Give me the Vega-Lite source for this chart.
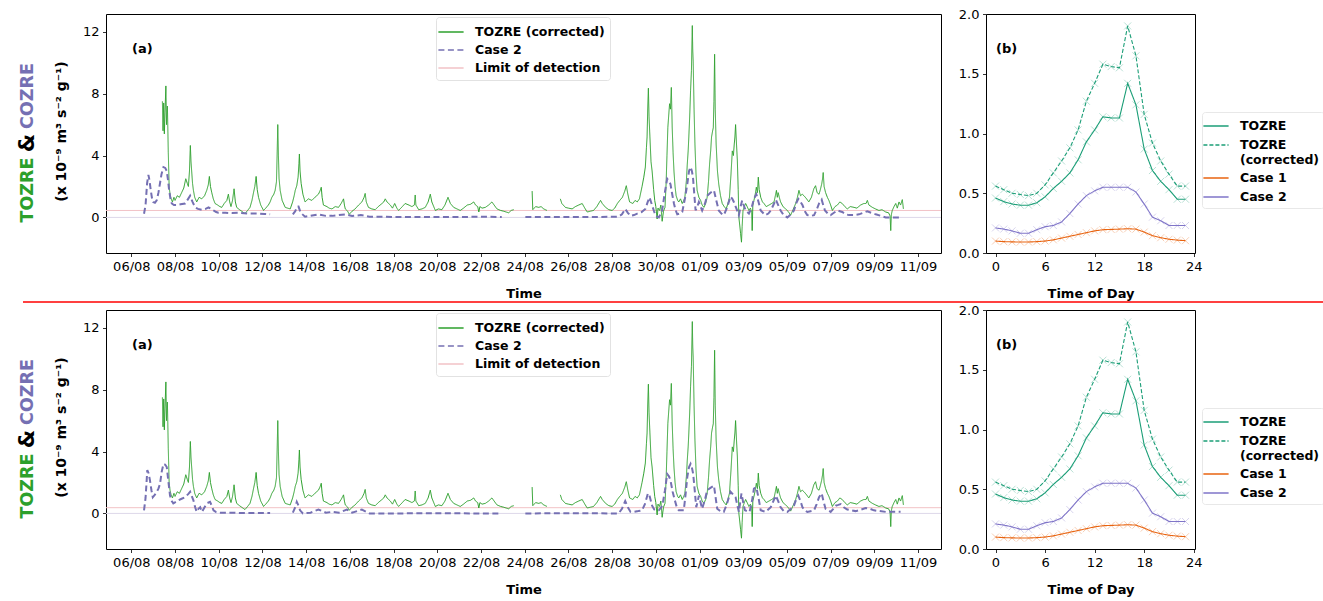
{
"$schema": "https://vega.github.io/schema/vega-lite/v6.json",
"padding": {"left": 17, "top": 7, "right": 0, "bottom": 0},
"background": "white",
"config": {
  "font": "DejaVu Sans",
  "view": {"stroke": "black", "strokeWidth": 1},
  "axis": {"labelFont": "DejaVu Sans", "labelFontSize": 13, "labelColor": "black", "tickColor": "black", "tickSize": 3.5, "tickWidth": 0.8, "labelPadding": 3.5, "domain": false, "grid": false, "titleFont": "DejaVu Sans", "titleFontSize": 13, "titleFontWeight": "bold", "titleColor": "black", "labelFlush": false, "labelOverlap": false},
  "legend": {"labelFont": "DejaVu Sans", "labelColor": "black"},
  "title": {"font": "DejaVu Sans", "color": "black"}
},
"datasets": {
"tozre": [{"t":1.42,"v":7.5},{"t":1.45,"v":5.6},{"t":1.48,"v":7.4},{"t":1.51,"v":5.4},{"t":1.54,"v":6.8},{"t":1.58,"v":8.5},{"t":1.61,"v":6.0},{"t":1.65,"v":7.2},{"t":1.69,"v":4.2},{"t":1.73,"v":2.0},{"t":1.77,"v":1.5},{"t":1.82,"v":1.2},{"t":1.88,"v":1.0},{"t":1.95,"v":1.3},{"t":2.0,"v":1.1},{"t":2.1,"v":1.4},{"t":2.2,"v":1.3},{"t":2.3,"v":1.6},{"t":2.4,"v":1.9},{"t":2.49,"v":2.5},{"t":2.56,"v":2.2},{"t":2.61,"v":2.0},{"t":2.66,"v":3.0},{"t":2.7,"v":4.65},{"t":2.73,"v":3.6},{"t":2.76,"v":3.0},{"t":2.8,"v":2.2},{"t":2.84,"v":1.75},{"t":2.9,"v":1.3},{"t":2.99,"v":1.0},{"t":3.1,"v":1.3},{"t":3.22,"v":1.2},{"t":3.35,"v":1.4},{"t":3.45,"v":1.75},{"t":3.52,"v":2.1},{"t":3.57,"v":2.65},{"t":3.62,"v":2.0},{"t":3.68,"v":1.6},{"t":3.75,"v":1.2},{"t":3.83,"v":0.9},{"t":3.95,"v":0.8},{"t":4.05,"v":0.7},{"t":4.14,"v":0.65},{"t":4.25,"v":0.9},{"t":4.37,"v":1.1},{"t":4.44,"v":1.5},{"t":4.5,"v":1.0},{"t":4.56,"v":0.7},{"t":4.63,"v":1.1},{"t":4.7,"v":1.85},{"t":4.76,"v":1.0},{"t":4.82,"v":0.65},{"t":4.95,"v":0.5},{"t":5.05,"v":0.4},{"t":5.2,"v":0.25},{"t":5.32,"v":0.45},{"t":5.43,"v":0.65},{"t":5.52,"v":1.1},{"t":5.59,"v":1.6},{"t":5.65,"v":2.0},{"t":5.71,"v":2.65},{"t":5.76,"v":1.8},{"t":5.82,"v":1.3},{"t":5.92,"v":0.8},{"t":6.05,"v":0.45},{"t":6.15,"v":0.6},{"t":6.27,"v":0.8},{"t":6.35,"v":1.0},{"t":6.43,"v":1.3},{"t":6.52,"v":1.5},{"t":6.58,"v":1.75},{"t":6.64,"v":2.3},{"t":6.67,"v":4.0},{"t":6.7,"v":6.0},{"t":6.73,"v":4.0},{"t":6.76,"v":2.5},{"t":6.81,"v":1.75},{"t":6.9,"v":1.1},{"t":7.04,"v":0.65},{"t":7.15,"v":0.6},{"t":7.27,"v":0.55},{"t":7.38,"v":1.0},{"t":7.45,"v":1.4},{"t":7.5,"v":1.75},{"t":7.57,"v":2.05},{"t":7.63,"v":2.6},{"t":7.67,"v":3.5},{"t":7.69,"v":4.1},{"t":7.72,"v":3.0},{"t":7.77,"v":2.2},{"t":7.85,"v":1.5},{"t":7.95,"v":1.0},{"t":8.1,"v":1.2},{"t":8.26,"v":1.1},{"t":8.4,"v":1.3},{"t":8.56,"v":1.5},{"t":8.63,"v":1.7},{"t":8.69,"v":1.95},{"t":8.73,"v":1.3},{"t":8.79,"v":0.8},{"t":8.95,"v":0.7},{"t":9.05,"v":0.6},{"t":9.18,"v":0.55},{"t":9.33,"v":0.7},{"t":9.48,"v":0.65},{"t":9.6,"v":0.9},{"t":9.71,"v":1.2},{"t":9.75,"v":0.8},{"t":9.79,"v":0.55},{"t":9.9,"v":0.4},{"t":9.97,"v":0.2},{"t":10.1,"v":0.4},{"t":10.24,"v":0.55},{"t":10.4,"v":0.8},{"t":10.55,"v":1.0},{"t":10.65,"v":1.3},{"t":10.7,"v":1.55},{"t":10.75,"v":1.0},{"t":10.85,"v":0.65},{"t":11.0,"v":0.55},{"t":11.16,"v":0.5},{"t":11.3,"v":0.7},{"t":11.47,"v":0.9},{"t":11.55,"v":1.0},{"t":11.62,"v":1.2},{"t":11.7,"v":1.0},{"t":11.85,"v":0.8},{"t":11.95,"v":0.6},{"t":12.05,"v":0.9},{"t":12.15,"v":0.6},{"t":12.23,"v":0.45},{"t":12.4,"v":0.7},{"t":12.53,"v":0.9},{"t":12.7,"v":0.8},{"t":12.84,"v":0.7},{"t":12.95,"v":0.8},{"t":12.99,"v":1.45},{"t":13.02,"v":0.8},{"t":13.15,"v":0.5},{"t":13.3,"v":0.55},{"t":13.45,"v":0.65},{"t":13.58,"v":1.0},{"t":13.68,"v":1.5},{"t":13.75,"v":1.0},{"t":13.91,"v":0.45},{"t":14.05,"v":0.55},{"t":14.21,"v":0.5},{"t":14.35,"v":0.8},{"t":14.49,"v":1.3},{"t":14.6,"v":0.9},{"t":14.75,"v":0.65},{"t":14.9,"v":0.55},{"t":15.05,"v":0.45},{"t":15.2,"v":0.6},{"t":15.37,"v":0.8},{"t":15.52,"v":0.85},{"t":15.67,"v":1.0},{"t":15.75,"v":0.8},{"t":15.85,"v":0.7},{"t":15.9,"v":0.35},{"t":15.95,"v":0.7},{"t":16.05,"v":0.6},{"t":16.2,"v":0.65},{"t":16.35,"v":0.8},{"t":16.5,"v":1.0},{"t":16.6,"v":0.8},{"t":16.73,"v":0.55},{"t":16.9,"v":0.45},{"t":17.04,"v":0.4},{"t":17.15,"v":0.35},{"t":17.27,"v":0.3},{"t":17.38,"v":0.45},{"t":17.5,"v":0.5},{"t":17.9,"v":null},{"t":18.34,"v":1.7},{"t":18.37,"v":0.5},{"t":18.5,"v":0.7},{"t":18.64,"v":0.65},{"t":18.75,"v":0.7},{"t":18.87,"v":0.55},{"t":19.02,"v":0.45},{"t":19.3,"v":null},{"t":19.63,"v":1.2},{"t":19.7,"v":0.9},{"t":19.86,"v":0.65},{"t":20.0,"v":0.6},{"t":20.17,"v":0.55},{"t":20.32,"v":0.7},{"t":20.47,"v":0.8},{"t":20.63,"v":0.9},{"t":20.75,"v":0.6},{"t":20.86,"v":0.35},{"t":21.0,"v":0.4},{"t":21.15,"v":0.45},{"t":21.3,"v":0.7},{"t":21.47,"v":1.1},{"t":21.55,"v":0.9},{"t":21.7,"v":0.65},{"t":21.85,"v":0.5},{"t":22.0,"v":0.45},{"t":22.12,"v":0.6},{"t":22.24,"v":0.9},{"t":22.35,"v":1.1},{"t":22.47,"v":1.3},{"t":22.58,"v":1.7},{"t":22.65,"v":2.05},{"t":22.72,"v":1.5},{"t":22.8,"v":1.0},{"t":22.95,"v":0.9},{"t":23.05,"v":1.1},{"t":23.15,"v":1.0},{"t":23.25,"v":1.2},{"t":23.37,"v":2.0},{"t":23.45,"v":2.6},{"t":23.52,"v":3.25},{"t":23.57,"v":4.5},{"t":23.6,"v":5.2},{"t":23.63,"v":7.0},{"t":23.66,"v":8.35},{"t":23.69,"v":6.5},{"t":23.73,"v":5.2},{"t":23.78,"v":3.6},{"t":23.83,"v":3.0},{"t":23.9,"v":1.8},{"t":23.95,"v":1.1},{"t":24.0,"v":0.7},{"t":24.06,"v":-0.1},{"t":24.1,"v":0.6},{"t":24.17,"v":0.45},{"t":24.23,"v":0.8},{"t":24.29,"v":-0.25},{"t":24.35,"v":0.4},{"t":24.42,"v":0.65},{"t":24.47,"v":2.15},{"t":24.51,"v":4.0},{"t":24.55,"v":5.8},{"t":24.59,"v":6.6},{"t":24.63,"v":7.35},{"t":24.67,"v":7.0},{"t":24.71,"v":8.4},{"t":24.75,"v":5.8},{"t":24.79,"v":4.2},{"t":24.83,"v":3.0},{"t":24.88,"v":2.0},{"t":24.93,"v":1.4},{"t":25.0,"v":1.1},{"t":25.05,"v":1.0},{"t":25.13,"v":1.2},{"t":25.21,"v":0.9},{"t":25.28,"v":1.1},{"t":25.33,"v":1.3},{"t":25.4,"v":2.4},{"t":25.44,"v":3.45},{"t":25.48,"v":4.3},{"t":25.51,"v":5.2},{"t":25.55,"v":6.5},{"t":25.59,"v":8.2},{"t":25.63,"v":9.5},{"t":25.67,"v":12.4},{"t":25.69,"v":10.8},{"t":25.71,"v":10.1},{"t":25.75,"v":7.0},{"t":25.79,"v":4.75},{"t":25.84,"v":2.8},{"t":25.89,"v":1.75},{"t":25.97,"v":1.3},{"t":26.05,"v":1.1},{"t":26.12,"v":0.8},{"t":26.2,"v":0.65},{"t":26.28,"v":0.9},{"t":26.35,"v":1.3},{"t":26.41,"v":2.3},{"t":26.46,"v":3.45},{"t":26.51,"v":4.3},{"t":26.55,"v":5.2},{"t":26.6,"v":5.6},{"t":26.63,"v":5.8},{"t":26.66,"v":7.5},{"t":26.69,"v":10.55},{"t":26.72,"v":7.0},{"t":26.76,"v":4.75},{"t":26.82,"v":3.0},{"t":26.88,"v":2.15},{"t":26.96,"v":1.4},{"t":27.04,"v":0.9},{"t":27.13,"v":0.7},{"t":27.22,"v":0.55},{"t":27.3,"v":0.9},{"t":27.37,"v":1.3},{"t":27.44,"v":2.8},{"t":27.5,"v":4.3},{"t":27.55,"v":4.0},{"t":27.59,"v":4.75},{"t":27.62,"v":5.2},{"t":27.65,"v":6.0},{"t":27.69,"v":4.8},{"t":27.73,"v":3.7},{"t":27.77,"v":1.8},{"t":27.8,"v":0.0},{"t":27.84,"v":-0.5},{"t":27.88,"v":-1.05},{"t":27.92,"v":-1.6},{"t":27.95,"v":-0.6},{"t":27.99,"v":0.45},{"t":28.05,"v":0.7},{"t":28.11,"v":0.9},{"t":28.18,"v":0.7},{"t":28.26,"v":0.45},{"t":28.33,"v":0.6},{"t":28.39,"v":0.3},{"t":28.41,"v":-0.85},{"t":28.44,"v":0.8},{"t":28.49,"v":1.1},{"t":28.55,"v":1.5},{"t":28.6,"v":1.95},{"t":28.65,"v":1.6},{"t":28.69,"v":2.6},{"t":28.73,"v":1.8},{"t":28.8,"v":1.3},{"t":28.88,"v":1.0},{"t":28.95,"v":0.9},{"t":29.05,"v":0.7},{"t":29.18,"v":0.8},{"t":29.3,"v":0.9},{"t":29.41,"v":1.0},{"t":29.47,"v":1.4},{"t":29.52,"v":1.75},{"t":29.56,"v":1.3},{"t":29.6,"v":1.6},{"t":29.65,"v":1.3},{"t":29.71,"v":1.0},{"t":29.82,"v":0.7},{"t":29.94,"v":0.55},{"t":30.05,"v":0.4},{"t":30.17,"v":0.15},{"t":30.28,"v":0.5},{"t":30.4,"v":0.9},{"t":30.48,"v":1.3},{"t":30.55,"v":1.75},{"t":30.62,"v":1.4},{"t":30.7,"v":1.5},{"t":30.78,"v":1.4},{"t":30.9,"v":1.2},{"t":31.0,"v":1.0},{"t":31.12,"v":1.3},{"t":31.23,"v":1.85},{"t":31.31,"v":2.05},{"t":31.38,"v":1.6},{"t":31.47,"v":1.5},{"t":31.53,"v":1.8},{"t":31.59,"v":2.15},{"t":31.63,"v":2.5},{"t":31.66,"v":2.9},{"t":31.7,"v":2.0},{"t":31.77,"v":1.6},{"t":31.85,"v":1.3},{"t":31.92,"v":1.1},{"t":32.0,"v":0.8},{"t":32.08,"v":0.45},{"t":32.2,"v":0.7},{"t":32.31,"v":0.8},{"t":32.42,"v":1.0},{"t":32.53,"v":0.9},{"t":32.65,"v":0.7},{"t":32.76,"v":0.55},{"t":32.9,"v":0.7},{"t":33.07,"v":0.65},{"t":33.2,"v":0.6},{"t":33.37,"v":0.8},{"t":33.52,"v":0.9},{"t":33.62,"v":0.9},{"t":33.68,"v":1.1},{"t":33.75,"v":0.8},{"t":33.91,"v":0.65},{"t":34.05,"v":0.55},{"t":34.21,"v":0.45},{"t":34.35,"v":0.5},{"t":34.52,"v":0.35},{"t":34.65,"v":0.3},{"t":34.72,"v":0.1},{"t":34.75,"v":-0.85},{"t":34.78,"v":0.2},{"t":34.82,"v":0.45},{"t":34.9,"v":0.7},{"t":34.98,"v":0.9},{"t":35.05,"v":0.6},{"t":35.13,"v":1.0},{"t":35.2,"v":0.8},{"t":35.28,"v":1.15},{"t":35.33,"v":0.55}],
"case2a": [{"t":0.58,"v":0.24},{"t":0.65,"v":0.8},{"t":0.72,"v":2.2},{"t":0.78,"v":2.75},{"t":0.83,"v":2.4},{"t":0.89,"v":1.74},{"t":0.95,"v":1.2},{"t":1.0,"v":1.0},{"t":1.08,"v":0.95},{"t":1.16,"v":1.1},{"t":1.24,"v":1.6},{"t":1.31,"v":2.2},{"t":1.38,"v":2.8},{"t":1.47,"v":3.25},{"t":1.55,"v":3.2},{"t":1.62,"v":3.0},{"t":1.68,"v":2.4},{"t":1.73,"v":1.75},{"t":1.79,"v":1.2},{"t":1.85,"v":0.9},{"t":1.95,"v":0.8},{"t":2.08,"v":0.8},{"t":2.25,"v":0.85},{"t":2.46,"v":0.9},{"t":2.6,"v":1.2},{"t":2.69,"v":1.4},{"t":2.8,"v":1.0},{"t":2.92,"v":0.65},{"t":3.05,"v":0.55},{"t":3.22,"v":0.5},{"t":3.4,"v":0.55},{"t":3.53,"v":0.65},{"t":3.65,"v":0.55},{"t":3.76,"v":0.45},{"t":3.88,"v":0.35},{"t":3.98,"v":0.3},{"t":4.3,"v":0.3},{"t":4.6,"v":0.28},{"t":4.9,"v":0.3},{"t":5.3,"v":0.25},{"t":5.8,"v":0.25},{"t":6.1,"v":0.22},{"t":6.35,"v":0.2},{"t":6.8,"v":null},{"t":7.39,"v":0.2},{"t":7.5,"v":0.4},{"t":7.58,"v":0.7},{"t":7.65,"v":0.7},{"t":7.75,"v":0.3},{"t":7.95,"v":0.05},{"t":8.2,"v":0.1},{"t":8.56,"v":0.2},{"t":8.9,"v":0.1},{"t":9.2,"v":0.1},{"t":9.5,"v":0.15},{"t":9.8,"v":0.2},{"t":10.1,"v":0.1},{"t":10.5,"v":0.15},{"t":10.9,"v":0.05},{"t":11.3,"v":0.05},{"t":11.6,"v":0.05},{"t":12.0,"v":0.02},{"t":13.0,"v":0.03},{"t":14.0,"v":0.02},{"t":15.0,"v":0.03},{"t":16.0,"v":0.04},{"t":16.95,"v":0.03},{"t":17.5,"v":null},{"t":18.03,"v":0.02},{"t":19.0,"v":0.02},{"t":20.0,"v":0.03},{"t":21.0,"v":0.02},{"t":22.0,"v":0.04},{"t":22.3,"v":0.05},{"t":22.45,"v":0.2},{"t":22.6,"v":0.55},{"t":22.72,"v":0.3},{"t":22.84,"v":0.1},{"t":23.0,"v":0.15},{"t":23.15,"v":0.25},{"t":23.35,"v":0.35},{"t":23.52,"v":0.55},{"t":23.63,"v":1.0},{"t":23.71,"v":1.3},{"t":23.78,"v":1.0},{"t":23.86,"v":0.65},{"t":23.93,"v":0.35},{"t":24.0,"v":0.1},{"t":24.14,"v":0.0},{"t":24.29,"v":0.45},{"t":24.4,"v":1.5},{"t":24.52,"v":2.5},{"t":24.6,"v":2.35},{"t":24.67,"v":2.15},{"t":24.75,"v":1.5},{"t":24.83,"v":0.9},{"t":24.9,"v":0.5},{"t":24.98,"v":0.2},{"t":25.1,"v":0.25},{"t":25.21,"v":0.35},{"t":25.33,"v":1.2},{"t":25.44,"v":2.15},{"t":25.52,"v":3.0},{"t":25.59,"v":3.25},{"t":25.65,"v":3.0},{"t":25.7,"v":2.6},{"t":25.76,"v":1.5},{"t":25.82,"v":0.45},{"t":25.9,"v":0.7},{"t":25.97,"v":1.0},{"t":26.05,"v":0.7},{"t":26.12,"v":0.45},{"t":26.25,"v":0.9},{"t":26.35,"v":1.4},{"t":26.5,"v":1.6},{"t":26.66,"v":1.75},{"t":26.75,"v":1.2},{"t":26.88,"v":0.45},{"t":27.0,"v":0.25},{"t":27.11,"v":0.15},{"t":27.25,"v":0.6},{"t":27.42,"v":1.35},{"t":27.5,"v":1.2},{"t":27.57,"v":1.0},{"t":27.68,"v":0.6},{"t":27.8,"v":0.15},{"t":27.88,"v":0.7},{"t":27.95,"v":1.1},{"t":28.02,"v":0.8},{"t":28.11,"v":0.45},{"t":28.26,"v":0.25},{"t":28.38,"v":0.6},{"t":28.49,"v":1.2},{"t":28.6,"v":1.5},{"t":28.7,"v":1.0},{"t":28.8,"v":0.45},{"t":29.0,"v":0.15},{"t":29.15,"v":0.25},{"t":29.26,"v":0.45},{"t":29.38,"v":0.8},{"t":29.49,"v":1.15},{"t":29.6,"v":0.8},{"t":29.71,"v":0.45},{"t":29.85,"v":0.15},{"t":30.02,"v":0.0},{"t":30.18,"v":0.2},{"t":30.32,"v":0.45},{"t":30.42,"v":0.9},{"t":30.52,"v":1.2},{"t":30.62,"v":1.0},{"t":30.71,"v":0.8},{"t":30.82,"v":0.4},{"t":30.93,"v":0.15},{"t":31.1,"v":0.1},{"t":31.24,"v":0.15},{"t":31.36,"v":0.5},{"t":31.47,"v":0.9},{"t":31.59,"v":1.15},{"t":31.66,"v":0.8},{"t":31.74,"v":0.45},{"t":31.87,"v":0.25},{"t":32.0,"v":0.15},{"t":32.15,"v":0.3},{"t":32.31,"v":0.45},{"t":32.42,"v":0.4},{"t":32.53,"v":0.35},{"t":32.7,"v":0.2},{"t":32.84,"v":0.15},{"t":33.05,"v":0.15},{"t":33.3,"v":0.2},{"t":33.5,"v":0.3},{"t":33.68,"v":0.4},{"t":33.85,"v":0.3},{"t":34.06,"v":0.2},{"t":34.3,"v":0.1},{"t":34.52,"v":0.0},{"t":34.9,"v":0.0},{"t":35.2,"v":0.0}],
"case2b": [{"t":0.58,"v":0.2},{"t":0.65,"v":1.0},{"t":0.73,"v":2.8},{"t":0.79,"v":2.6},{"t":0.85,"v":2.15},{"t":0.92,"v":1.5},{"t":0.98,"v":1.05},{"t":1.07,"v":1.2},{"t":1.16,"v":1.4},{"t":1.24,"v":1.6},{"t":1.31,"v":1.9},{"t":1.39,"v":2.7},{"t":1.47,"v":3.2},{"t":1.55,"v":3.15},{"t":1.62,"v":3.0},{"t":1.7,"v":2.0},{"t":1.77,"v":1.15},{"t":1.85,"v":0.8},{"t":1.92,"v":0.65},{"t":2.05,"v":0.75},{"t":2.15,"v":0.85},{"t":2.3,"v":0.95},{"t":2.46,"v":1.05},{"t":2.6,"v":1.25},{"t":2.69,"v":1.4},{"t":2.77,"v":1.1},{"t":2.84,"v":0.85},{"t":2.92,"v":0.4},{"t":2.99,"v":0.1},{"t":3.07,"v":0.3},{"t":3.15,"v":0.4},{"t":3.23,"v":0.1},{"t":3.35,"v":0.4},{"t":3.45,"v":0.65},{"t":3.6,"v":0.75},{"t":3.68,"v":0.5},{"t":3.76,"v":0.2},{"t":3.88,"v":0.08},{"t":3.98,"v":0.05},{"t":4.5,"v":0.05},{"t":5.0,"v":0.03},{"t":5.5,"v":0.02},{"t":6.0,"v":0.03},{"t":6.35,"v":0.02},{"t":6.8,"v":null},{"t":7.39,"v":0.05},{"t":7.5,"v":0.4},{"t":7.57,"v":0.75},{"t":7.65,"v":0.5},{"t":7.72,"v":0.2},{"t":7.85,"v":0.0},{"t":8.2,"v":0.05},{"t":8.56,"v":0.25},{"t":8.9,"v":0.05},{"t":9.2,"v":0.1},{"t":9.5,"v":0.05},{"t":9.86,"v":0.25},{"t":10.1,"v":0.05},{"t":10.55,"v":0.25},{"t":10.9,"v":0.0},{"t":12.0,"v":0.0},{"t":14.0,"v":0.01},{"t":16.0,"v":0.0},{"t":16.95,"v":0.0},{"t":17.5,"v":null},{"t":18.03,"v":0.0},{"t":20.0,"v":0.01},{"t":22.3,"v":0.0},{"t":22.45,"v":0.3},{"t":22.6,"v":0.8},{"t":22.72,"v":0.4},{"t":22.84,"v":0.1},{"t":23.0,"v":0.1},{"t":23.2,"v":0.15},{"t":23.37,"v":0.2},{"t":23.5,"v":0.6},{"t":23.64,"v":1.3},{"t":23.72,"v":1.1},{"t":23.83,"v":0.5},{"t":23.93,"v":0.25},{"t":24.0,"v":0.2},{"t":24.14,"v":0.2},{"t":24.3,"v":0.5},{"t":24.42,"v":1.5},{"t":24.52,"v":2.55},{"t":24.6,"v":2.4},{"t":24.67,"v":2.15},{"t":24.77,"v":1.4},{"t":24.87,"v":0.85},{"t":24.96,"v":0.4},{"t":25.05,"v":0.2},{"t":25.28,"v":0.2},{"t":25.36,"v":1.2},{"t":25.44,"v":2.35},{"t":25.52,"v":3.0},{"t":25.59,"v":3.2},{"t":25.66,"v":2.9},{"t":25.71,"v":2.55},{"t":25.78,"v":1.5},{"t":25.85,"v":0.4},{"t":25.92,"v":0.8},{"t":25.97,"v":1.15},{"t":26.05,"v":0.7},{"t":26.12,"v":0.3},{"t":26.25,"v":0.9},{"t":26.35,"v":1.5},{"t":26.5,"v":1.65},{"t":26.66,"v":1.8},{"t":26.73,"v":1.1},{"t":26.81,"v":0.3},{"t":26.95,"v":0.15},{"t":27.11,"v":0.1},{"t":27.25,"v":0.6},{"t":27.42,"v":1.4},{"t":27.55,"v":1.2},{"t":27.65,"v":1.05},{"t":27.72,"v":0.6},{"t":27.8,"v":0.1},{"t":27.86,"v":0.7},{"t":27.92,"v":1.3},{"t":28.0,"v":0.7},{"t":28.08,"v":0.2},{"t":28.29,"v":0.1},{"t":28.4,"v":0.8},{"t":28.49,"v":1.6},{"t":28.6,"v":1.7},{"t":28.7,"v":1.0},{"t":28.8,"v":0.2},{"t":29.03,"v":0.1},{"t":29.26,"v":0.4},{"t":29.38,"v":0.8},{"t":29.49,"v":1.15},{"t":29.6,"v":0.8},{"t":29.71,"v":0.4},{"t":29.85,"v":0.15},{"t":30.02,"v":0.1},{"t":30.18,"v":0.3},{"t":30.32,"v":0.5},{"t":30.42,"v":0.9},{"t":30.52,"v":1.15},{"t":30.62,"v":0.8},{"t":30.71,"v":0.4},{"t":30.82,"v":0.2},{"t":30.93,"v":0.1},{"t":31.24,"v":0.2},{"t":31.36,"v":0.6},{"t":31.47,"v":1.05},{"t":31.59,"v":1.3},{"t":31.67,"v":0.8},{"t":31.77,"v":0.3},{"t":32.0,"v":0.1},{"t":32.12,"v":0.3},{"t":32.23,"v":0.5},{"t":32.35,"v":0.55},{"t":32.46,"v":0.6},{"t":32.6,"v":0.4},{"t":32.76,"v":0.25},{"t":33.14,"v":0.15},{"t":33.4,"v":0.25},{"t":33.6,"v":0.35},{"t":33.8,"v":0.3},{"t":33.98,"v":0.2},{"t":34.52,"v":0.1},{"t":35.2,"v":0.1}],
"diurnal": [
{"h":0,"TOZRE":0.46,"TOZRE (corrected)":0.56,"Case 1":0.10,"Case 2":0.21},
{"h":1,"TOZRE":0.43,"TOZRE (corrected)":0.53,"Case 1":0.095,"Case 2":0.20},
{"h":2,"TOZRE":0.41,"TOZRE (corrected)":0.50,"Case 1":0.093,"Case 2":0.185},
{"h":3,"TOZRE":0.40,"TOZRE (corrected)":0.49,"Case 1":0.092,"Case 2":0.165},
{"h":4,"TOZRE":0.40,"TOZRE (corrected)":0.48,"Case 1":0.092,"Case 2":0.165},
{"h":5,"TOZRE":0.42,"TOZRE (corrected)":0.50,"Case 1":0.095,"Case 2":0.195},
{"h":6,"TOZRE":0.47,"TOZRE (corrected)":0.57,"Case 1":0.10,"Case 2":0.22},
{"h":7,"TOZRE":0.54,"TOZRE (corrected)":0.67,"Case 1":0.11,"Case 2":0.23},
{"h":8,"TOZRE":0.60,"TOZRE (corrected)":0.77,"Case 1":0.125,"Case 2":0.26},
{"h":9,"TOZRE":0.67,"TOZRE (corrected)":0.88,"Case 1":0.14,"Case 2":0.33},
{"h":10,"TOZRE":0.78,"TOZRE (corrected)":1.03,"Case 1":0.155,"Case 2":0.41},
{"h":11,"TOZRE":0.93,"TOZRE (corrected)":1.27,"Case 1":0.17,"Case 2":0.48},
{"h":12,"TOZRE":1.03,"TOZRE (corrected)":1.42,"Case 1":0.185,"Case 2":0.52},
{"h":13,"TOZRE":1.14,"TOZRE (corrected)":1.58,"Case 1":0.195,"Case 2":0.55},
{"h":14,"TOZRE":1.13,"TOZRE (corrected)":1.56,"Case 1":0.197,"Case 2":0.55},
{"h":15,"TOZRE":1.13,"TOZRE (corrected)":1.55,"Case 1":0.20,"Case 2":0.55},
{"h":16,"TOZRE":1.42,"TOZRE (corrected)":1.90,"Case 1":0.203,"Case 2":0.55},
{"h":17,"TOZRE":1.24,"TOZRE (corrected)":1.65,"Case 1":0.20,"Case 2":0.51},
{"h":18,"TOZRE":0.87,"TOZRE (corrected)":1.16,"Case 1":0.175,"Case 2":0.41},
{"h":19,"TOZRE":0.69,"TOZRE (corrected)":0.92,"Case 1":0.145,"Case 2":0.30},
{"h":20,"TOZRE":0.60,"TOZRE (corrected)":0.77,"Case 1":0.128,"Case 2":0.27},
{"h":21,"TOZRE":0.53,"TOZRE (corrected)":0.66,"Case 1":0.115,"Case 2":0.23},
{"h":22,"TOZRE":0.45,"TOZRE (corrected)":0.56,"Case 1":0.108,"Case 2":0.23},
{"h":23,"TOZRE":0.45,"TOZRE (corrected)":0.56,"Case 1":0.103,"Case 2":0.23}
]
},
"spacing": 0,
"resolve": {"scale": {"color": "independent", "strokeDash": "independent"}},
"vconcat": [
  {"spacing": 15,
   "resolve": {"scale": {"color": "independent", "strokeDash": "independent"}},
   "hconcat": [
    {"width": 10, "height": 239, "view": {"stroke": null},
     "encoding": {
       "y": {"field": "w", "type": "nominal", "scale": {"type": "point", "domain": ["COZRE", "&", "TOZRE"], "range": [82, 176], "padding": 0}, "axis": null},
       "text": {"field": "w"},
       "color": {"field": "w", "type": "nominal", "scale": {"domain": ["TOZRE", "&", "COZRE"], "range": ["#2ca02c", "black", "#7570b3"]}, "legend": null}},
     "layer": [
       {"data": {"values": [{"w": "TOZRE"}, {"w": "COZRE"}]}, "mark": {"type": "text", "angle": 270, "fontSize": 17.5, "fontWeight": "bold", "align": "center", "baseline": "middle"}},
       {"data": {"values": [{"w": "&"}]}, "mark": {"type": "text", "angle": 270, "fontSize": 21, "fontWeight": "bold", "align": "center", "baseline": "middle"}}
     ]},
    {"width": 835, "height": 239,
     "title": {"text": "(a)", "orient": "top", "anchor": "start", "frame": "group", "baseline": "top", "offset": 0, "dx": 26, "dy": 42, "fontSize": 13, "fontWeight": "bold"},
     "encoding": {
        "x": {"field": "t", "type": "quantitative", "scale": {"domain": [-1.16, 37.05], "nice": false, "zero": false},
          "axis": {"values": [0,2,4,6,8,10,12,14,16,18,20,22,24,26,28,30,32,34,36], "labelExpr": "timeFormat(datetime(2021,7,6+datum.value),'%d/%m')", "title": "Time", "titlePadding": 14}},
        "y": {"field": "v", "type": "quantitative", "scale": {"domain": [-2.3, 13.15], "nice": false, "zero": false},
          "axis": {"values": [0,4,8,12], "title": "(x 10⁻⁹ m³ s⁻² g⁻¹)", "titleFontSize": 14, "titleX": -45, "titleY": 117, "titleAngle": 270, "titleAlign": "center", "titleBaseline": "middle"}}
     },
     "layer": [
      {"data": {"values": [{"v": 0}]}, "mark": {"type": "rule", "color": "#ddd8ea", "strokeWidth": 1}, "encoding": {"x": null}},
      {"data": {"values": [{"v": 0.45}]}, "mark": {"type": "rule", "strokeWidth": 1},
       "encoding": {"x": null, "color": {"datum": "Limit of detection", "type": "nominal"}, "strokeDash": {"datum": "Limit of detection", "type": "nominal"}}},
      {"data": {"name": "tozre"}, "mark": {"type": "line", "strokeWidth": 1},
       "encoding": {
        "color": {"datum": "TOZRE (corrected)", "type": "nominal", "scale": {"domain": ["TOZRE (corrected)", "Case 2", "Limit of detection"], "range": ["#2ca02c", "#7570b3", "#f2c2c6"]},
          "legend": {"orient": "none", "legendX": 330, "legendY": 3, "title": null, "symbolType": "M-1.4,0L1.4,0", "symbolSize": 324, "symbolStrokeWidth": 1.6, "labelFontSize": 12.5, "labelFontWeight": "bold", "padding": 5, "rowPadding": 1, "labelOffset": 14, "strokeColor": "#e2e2e2", "fillColor": "white", "cornerRadius": 3}},
        "strokeDash": {"datum": "TOZRE (corrected)", "type": "nominal", "scale": {"domain": ["TOZRE (corrected)", "Case 2", "Limit of detection"], "range": [[1,0],[6,3.5],[1,0]]},
          "legend": {"orient": "none", "legendX": 330, "legendY": 3, "title": null, "symbolType": "M-1.4,0L1.4,0", "symbolSize": 324, "symbolStrokeWidth": 1.6, "labelFontSize": 12.5, "labelFontWeight": "bold", "padding": 5, "rowPadding": 1, "labelOffset": 14, "strokeColor": "#e2e2e2", "fillColor": "white", "cornerRadius": 3}}}},
      {"data": {"name": "case2a"}, "mark": {"type": "line", "strokeWidth": 2},
       "encoding": {
        "color": {"datum": "Case 2", "type": "nominal"},
        "strokeDash": {"datum": "Case 2", "type": "nominal"}}}
     ]},
    {"width": 209, "height": 239,
     "title": {"text": "(b)", "orient": "top", "anchor": "start", "frame": "group", "baseline": "top", "offset": 0, "dx": 10, "dy": 48, "fontSize": 13, "fontWeight": "bold"},
     "data": {"name": "diurnal"},
     "transform": [{"fold": ["TOZRE", "TOZRE (corrected)", "Case 1", "Case 2"], "as": ["s", "v"]}],
     "encoding": {
      "x": {"field": "h", "type": "quantitative", "scale": {"domain": [-1.15, 24.15], "nice": false, "zero": false}, "axis": {"values": [0,6,12,18,24], "title": "Time of Day", "titlePadding": 14}},
      "y": {"field": "v", "type": "quantitative", "scale": {"domain": [0, 2], "nice": false}, "axis": {"values": [0,0.5,1,1.5,2], "format": ".1f", "title": null}},
      "color": {"field": "s", "type": "nominal", "scale": {"domain": ["TOZRE", "TOZRE (corrected)", "Case 1", "Case 2"], "range": ["#1b9e77", "#1b9e77", "#e8630f", "#7f74c8"]},
        "legend": {"orient": "none", "legendX": 216, "legendY": 98, "title": null, "symbolType": "M-1.4,0L1.4,0", "symbolSize": 324, "symbolStrokeWidth": 1.3, "symbolOpacity": 1, "labelFontSize": 12.5, "labelFontWeight": "bold", "padding": 4, "rowPadding": 2, "labelOffset": 14, "strokeColor": "#e8e8e8", "fillColor": "white", "cornerRadius": 3, "labelExpr": "datum.label == 'TOZRE (corrected)' ? ['TOZRE', '\u00a0(corrected)'] : datum.label"}}
     },
     "layer": [
      {"mark": {"type": "line", "strokeWidth": 1.1},
       "encoding": {"strokeDash": {"field": "s", "type": "nominal", "scale": {"domain": ["TOZRE", "TOZRE (corrected)", "Case 1", "Case 2"], "range": [[1,0],[4,2],[1,0],[1,0]]},
         "legend": {"orient": "none", "legendX": 216, "legendY": 98, "title": null, "symbolType": "M-1.4,0L1.4,0", "symbolSize": 324, "symbolStrokeWidth": 1.3, "symbolOpacity": 1, "labelFontSize": 12.5, "labelFontWeight": "bold", "padding": 4, "rowPadding": 2, "labelOffset": 14, "strokeColor": "#e8e8e8", "fillColor": "white", "cornerRadius": 3, "labelExpr": "datum.label == 'TOZRE (corrected)' ? ['TOZRE', '\u00a0(corrected)'] : datum.label"}}}},
      {"mark": {"type": "point", "shape": "M-1,-1L1,1M-1,1L1,-1", "filled": false, "size": 49, "strokeWidth": 1, "opacity": 0.3}}
     ]}
   ]},
  {"width": 1305, "height": 1, "view": {"stroke": null}, "data": {"values": [{"v": 0}]}, "mark": {"type": "rule", "color": "#ff0000", "strokeWidth": 1.5}, "encoding": {"y": {"field": "v", "type": "quantitative", "scale": {"domain": [0, 1]}, "axis": null}}},
  {"spacing": 15,
   "resolve": {"scale": {"color": "independent", "strokeDash": "independent"}},
   "hconcat": [
    {"width": 10, "height": 239, "view": {"stroke": null},
     "encoding": {
       "y": {"field": "w", "type": "nominal", "scale": {"type": "point", "domain": ["COZRE", "&", "TOZRE"], "range": [82, 176], "padding": 0}, "axis": null},
       "text": {"field": "w"},
       "color": {"field": "w", "type": "nominal", "scale": {"domain": ["TOZRE", "&", "COZRE"], "range": ["#2ca02c", "black", "#7570b3"]}, "legend": null}},
     "layer": [
       {"data": {"values": [{"w": "TOZRE"}, {"w": "COZRE"}]}, "mark": {"type": "text", "angle": 270, "fontSize": 17.5, "fontWeight": "bold", "align": "center", "baseline": "middle"}},
       {"data": {"values": [{"w": "&"}]}, "mark": {"type": "text", "angle": 270, "fontSize": 21, "fontWeight": "bold", "align": "center", "baseline": "middle"}}
     ]},
    {"width": 835, "height": 239,
     "title": {"text": "(a)", "orient": "top", "anchor": "start", "frame": "group", "baseline": "top", "offset": 0, "dx": 26, "dy": 42, "fontSize": 13, "fontWeight": "bold"},
     "encoding": {
        "x": {"field": "t", "type": "quantitative", "scale": {"domain": [-1.16, 37.05], "nice": false, "zero": false},
          "axis": {"values": [0,2,4,6,8,10,12,14,16,18,20,22,24,26,28,30,32,34,36], "labelExpr": "timeFormat(datetime(2021,7,6+datum.value),'%d/%m')", "title": "Time", "titlePadding": 14}},
        "y": {"field": "v", "type": "quantitative", "scale": {"domain": [-2.3, 13.15], "nice": false, "zero": false},
          "axis": {"values": [0,4,8,12], "title": "(x 10⁻⁹ m³ s⁻² g⁻¹)", "titleFontSize": 14, "titleX": -45, "titleY": 117, "titleAngle": 270, "titleAlign": "center", "titleBaseline": "middle"}}
     },
     "layer": [
      {"data": {"values": [{"v": 0}]}, "mark": {"type": "rule", "color": "#ddd8ea", "strokeWidth": 1}, "encoding": {"x": null}},
      {"data": {"values": [{"v": 0.37}]}, "mark": {"type": "rule", "strokeWidth": 1},
       "encoding": {"x": null, "color": {"datum": "Limit of detection", "type": "nominal"}, "strokeDash": {"datum": "Limit of detection", "type": "nominal"}}},
      {"data": {"name": "tozre"}, "mark": {"type": "line", "strokeWidth": 1},
       "encoding": {
        "color": {"datum": "TOZRE (corrected)", "type": "nominal", "scale": {"domain": ["TOZRE (corrected)", "Case 2", "Limit of detection"], "range": ["#2ca02c", "#7570b3", "#f2c2c6"]},
          "legend": {"orient": "none", "legendX": 330, "legendY": 3, "title": null, "symbolType": "M-1.4,0L1.4,0", "symbolSize": 324, "symbolStrokeWidth": 1.6, "labelFontSize": 12.5, "labelFontWeight": "bold", "padding": 5, "rowPadding": 1, "labelOffset": 14, "strokeColor": "#e2e2e2", "fillColor": "white", "cornerRadius": 3}},
        "strokeDash": {"datum": "TOZRE (corrected)", "type": "nominal", "scale": {"domain": ["TOZRE (corrected)", "Case 2", "Limit of detection"], "range": [[1,0],[6,3.5],[1,0]]},
          "legend": {"orient": "none", "legendX": 330, "legendY": 3, "title": null, "symbolType": "M-1.4,0L1.4,0", "symbolSize": 324, "symbolStrokeWidth": 1.6, "labelFontSize": 12.5, "labelFontWeight": "bold", "padding": 5, "rowPadding": 1, "labelOffset": 14, "strokeColor": "#e2e2e2", "fillColor": "white", "cornerRadius": 3}}}},
      {"data": {"name": "case2b"}, "mark": {"type": "line", "strokeWidth": 2},
       "encoding": {
        "color": {"datum": "Case 2", "type": "nominal"},
        "strokeDash": {"datum": "Case 2", "type": "nominal"}}}
     ]},
    {"width": 209, "height": 239,
     "title": {"text": "(b)", "orient": "top", "anchor": "start", "frame": "group", "baseline": "top", "offset": 0, "dx": 10, "dy": 48, "fontSize": 13, "fontWeight": "bold"},
     "data": {"name": "diurnal"},
     "transform": [{"fold": ["TOZRE", "TOZRE (corrected)", "Case 1", "Case 2"], "as": ["s", "v"]}],
     "encoding": {
      "x": {"field": "h", "type": "quantitative", "scale": {"domain": [-1.15, 24.15], "nice": false, "zero": false}, "axis": {"values": [0,6,12,18,24], "title": "Time of Day", "titlePadding": 14}},
      "y": {"field": "v", "type": "quantitative", "scale": {"domain": [0, 2], "nice": false}, "axis": {"values": [0,0.5,1,1.5,2], "format": ".1f", "title": null}},
      "color": {"field": "s", "type": "nominal", "scale": {"domain": ["TOZRE", "TOZRE (corrected)", "Case 1", "Case 2"], "range": ["#1b9e77", "#1b9e77", "#e8630f", "#7f74c8"]},
        "legend": {"orient": "none", "legendX": 216, "legendY": 98, "title": null, "symbolType": "M-1.4,0L1.4,0", "symbolSize": 324, "symbolStrokeWidth": 1.3, "symbolOpacity": 1, "labelFontSize": 12.5, "labelFontWeight": "bold", "padding": 4, "rowPadding": 2, "labelOffset": 14, "strokeColor": "#e8e8e8", "fillColor": "white", "cornerRadius": 3, "labelExpr": "datum.label == 'TOZRE (corrected)' ? ['TOZRE', '\u00a0(corrected)'] : datum.label"}}
     },
     "layer": [
      {"mark": {"type": "line", "strokeWidth": 1.1},
       "encoding": {"strokeDash": {"field": "s", "type": "nominal", "scale": {"domain": ["TOZRE", "TOZRE (corrected)", "Case 1", "Case 2"], "range": [[1,0],[4,2],[1,0],[1,0]]},
         "legend": {"orient": "none", "legendX": 216, "legendY": 98, "title": null, "symbolType": "M-1.4,0L1.4,0", "symbolSize": 324, "symbolStrokeWidth": 1.3, "symbolOpacity": 1, "labelFontSize": 12.5, "labelFontWeight": "bold", "padding": 4, "rowPadding": 2, "labelOffset": 14, "strokeColor": "#e8e8e8", "fillColor": "white", "cornerRadius": 3, "labelExpr": "datum.label == 'TOZRE (corrected)' ? ['TOZRE', '\u00a0(corrected)'] : datum.label"}}}},
      {"mark": {"type": "point", "shape": "M-1,-1L1,1M-1,1L1,-1", "filled": false, "size": 49, "strokeWidth": 1, "opacity": 0.3}}
     ]}
   ]}
]
}
